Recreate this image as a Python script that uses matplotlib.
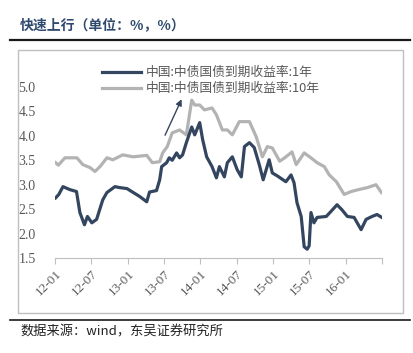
import matplotlib
matplotlib.use("Agg")
import matplotlib.pyplot as plt
from matplotlib.patches import Rectangle
from matplotlib.lines import Line2D
import pandas as pd

plt.rcParams['font.family'] = ['Liberation Serif', 'Noto Sans CJK SC', 'DejaVu Sans']

#===Data===#
y1_dates = ['2012-01-04', '2012-01-20', '2012-02-10', '2012-03-15', '2012-04-18', '2012-05-05',
            '2012-05-28', '2012-06-12', '2012-07-04', '2012-07-28', '2012-08-28', '2012-09-18',
            '2012-10-28', '2012-11-22', '2012-12-28', '2013-01-28', '2013-03-01', '2013-04-06',
            '2013-04-20', '2013-05-25', '2013-06-10', '2013-06-20', '2013-07-15', '2013-07-28',
            '2013-08-12', '2013-09-03', '2013-09-18', '2013-10-03', '2013-10-22', '2013-11-18',
            '2013-12-03', '2013-12-28', '2014-01-12', '2014-02-01', '2014-02-28', '2014-03-22',
            '2014-04-06', '2014-05-01', '2014-05-16', '2014-06-10', '2014-07-04', '2014-07-25',
            '2014-08-10', '2014-09-04', '2014-09-28', '2014-10-24', '2014-11-12', '2014-12-12',
            '2014-12-28', '2015-01-22', '2015-03-06', '2015-04-01', '2015-04-16', '2015-05-01',
            '2015-05-22', '2015-06-06', '2015-06-21', '2015-07-01', '2015-07-10', '2015-07-25',
            '2015-08-10', '2015-09-25', '2015-10-18', '2015-11-18', '2015-12-12', '2016-01-09',
            '2016-02-12', '2016-03-18', '2016-04-12', '2016-05-12', '2016-06-06', '2016-06-30']
y1_vals = [2.73, 2.80, 2.96, 2.90, 2.86, 2.43,
           2.18, 2.35, 2.22, 2.29, 2.69, 2.84,
           2.96, 2.94, 2.92, 2.84, 2.76, 2.65,
           2.85, 2.88, 3.10, 3.37, 3.45, 3.55,
           3.50, 3.65, 3.55, 3.61, 3.86, 4.18,
           4.02, 4.27, 3.92, 3.57, 3.37, 3.14,
           3.37, 3.16, 3.45, 3.57, 3.31, 3.16,
           3.78, 3.86, 3.76, 3.40, 3.10, 3.51,
           3.24, 3.18, 3.06, 3.20, 3.04, 2.63,
           2.35, 1.73, 1.68, 1.75, 2.43, 2.22,
           2.33, 2.35, 2.45, 2.59, 2.49, 2.35,
           2.33, 2.08, 2.29, 2.35, 2.39, 2.33]

y10_dates = ['2012-01-04', '2012-01-18', '2012-02-20', '2012-04-20', '2012-05-20', '2012-06-25',
             '2012-07-20', '2012-08-14', '2012-09-18', '2012-10-18', '2012-12-06', '2013-01-28',
             '2013-04-06', '2013-05-04', '2013-06-10', '2013-06-25', '2013-07-18', '2013-08-12',
             '2013-09-18', '2013-10-22', '2013-11-18', '2013-12-03', '2013-12-28', '2014-01-21',
             '2014-02-28', '2014-03-22', '2014-04-21', '2014-05-16', '2014-06-10', '2014-07-15',
             '2014-09-04', '2014-10-08', '2014-11-08', '2014-12-03', '2014-12-28', '2015-02-03',
             '2015-02-28', '2015-04-06', '2015-04-27', '2015-06-06', '2015-07-10', '2015-08-10',
             '2015-09-15', '2015-10-10', '2015-11-15', '2015-12-24', '2016-01-28', '2016-03-06',
             '2016-04-18', '2016-06-01', '2016-06-28']
y10_vals = [3.45, 3.40, 3.55, 3.55, 3.41, 3.35,
            3.27, 3.37, 3.55, 3.51, 3.61, 3.57,
            3.60, 3.45, 3.47, 3.65, 3.78, 4.06,
            4.12, 4.02, 4.73, 4.63, 4.63, 4.53,
            4.57, 4.43, 4.12, 4.12, 4.02, 4.29,
            4.29, 3.98, 3.57, 3.78, 3.75, 3.48,
            3.55, 3.67, 3.41, 3.65, 3.55, 3.45,
            3.37, 3.20, 3.06, 2.80, 2.86, 2.90,
            2.94, 3.00, 2.84]

tick_dates = ['2012-01-01', '2012-07-01', '2013-01-01', '2013-07-01', '2014-01-01',
              '2014-07-01', '2015-01-01', '2015-07-01', '2016-01-01', '2016-07-01']
tick_labels = ['12-01', '12-07', '13-01', '13-07', '14-01', '14-07', '15-01', '15-07', '16-01', '']
y_ticks = [1.5, 2.0, 2.5, 3.0, 3.5, 4.0, 4.5, 5.0]

label_1y = '中国:中债国债到期收益率:1年'
label_10y = '中国:中债国债到期收益率:10年'
title = '快速上行（单位：%，%）'
source = '数据来源：wind，东吴证券研究所'

navy = '#34465F'
grey = '#B3B3B3'
text_grey = '#595959'

#===Plot===#
fig = plt.figure(figsize=(4.13, 3.53), dpi=100)
W, H = 413, 353

fig.text(20 / W, 1 - 25 / H, title, fontsize=10, fontweight='bold', color='#2F4A6E',
         family=['Noto Sans CJK SC'], va='center', ha='left')
fig.add_artist(Line2D([10 / W, 410 / W], [1 - 40 / H, 1 - 40 / H], color='#1a1a1a', lw=1.6))
fig.add_artist(Line2D([10 / W, 410 / W], [1 - 320 / H, 1 - 320 / H], color='#1a1a1a', lw=1.2))
fig.text(20 / W, 1 - 332 / H, source, fontsize=9.5, color='#222222',
         family=['Noto Sans CJK SC'], va='center', ha='left')
fig.patches.append(Rectangle((18 / W, 1 - 313 / H), 385 / W, 263 / H, transform=fig.transFigure,
                             fill=False, edgecolor='#BFBFBF', lw=1.0))

ax = fig.add_axes([55 / W, 1 - 258 / H, 327 / W, (258 - 62.5) / H])
d1 = pd.to_datetime(y1_dates)
d10 = pd.to_datetime(y10_dates)
ax.plot(d1, y1_vals, color=navy, lw=2.3, label=label_1y, zorder=3)
ax.plot(d10, y10_vals, color=grey, lw=2.3, label=label_10y, zorder=2)

ax.set_xlim(pd.Timestamp('2012-01-01'), pd.Timestamp('2016-07-01'))
ax.set_ylim(1.5, 5.5)
ax.set_yticks(y_ticks)
ax.set_yticklabels(['%.1f' % v for v in y_ticks], fontsize=10, color=text_grey)
ax.set_xticks(pd.to_datetime(tick_dates))
ax.set_xticklabels(tick_labels, rotation=45, ha='right', rotation_mode='anchor',
                   fontsize=9.5, color=text_grey)
ax.tick_params(axis='y', length=0, pad=14)
ax.tick_params(axis='x', length=4, color='#BFBFBF', direction='out', pad=3)
for s in ['left', 'right', 'top']:
    ax.spines[s].set_visible(False)
ax.spines['bottom'].set_color('#BFBFBF')

ax.annotate('', xy=(pd.Timestamp('2013-10-04'), 4.80), xytext=(pd.Timestamp('2013-07-01'), 3.96),
            arrowprops=dict(arrowstyle='-|>', color=navy, lw=1.0, mutation_scale=9))

leg = ax.legend(loc='upper left', bbox_to_anchor=(0.11, 1.04), frameon=False,
                handlelength=3.0, handletextpad=0.4, labelspacing=0.25,
                prop={'family': ['Noto Sans CJK SC', 'Liberation Serif'], 'size': 9.2})
for t in leg.get_texts():
    t.set_color(text_grey)

fig.savefig('out.png', dpi=100)
